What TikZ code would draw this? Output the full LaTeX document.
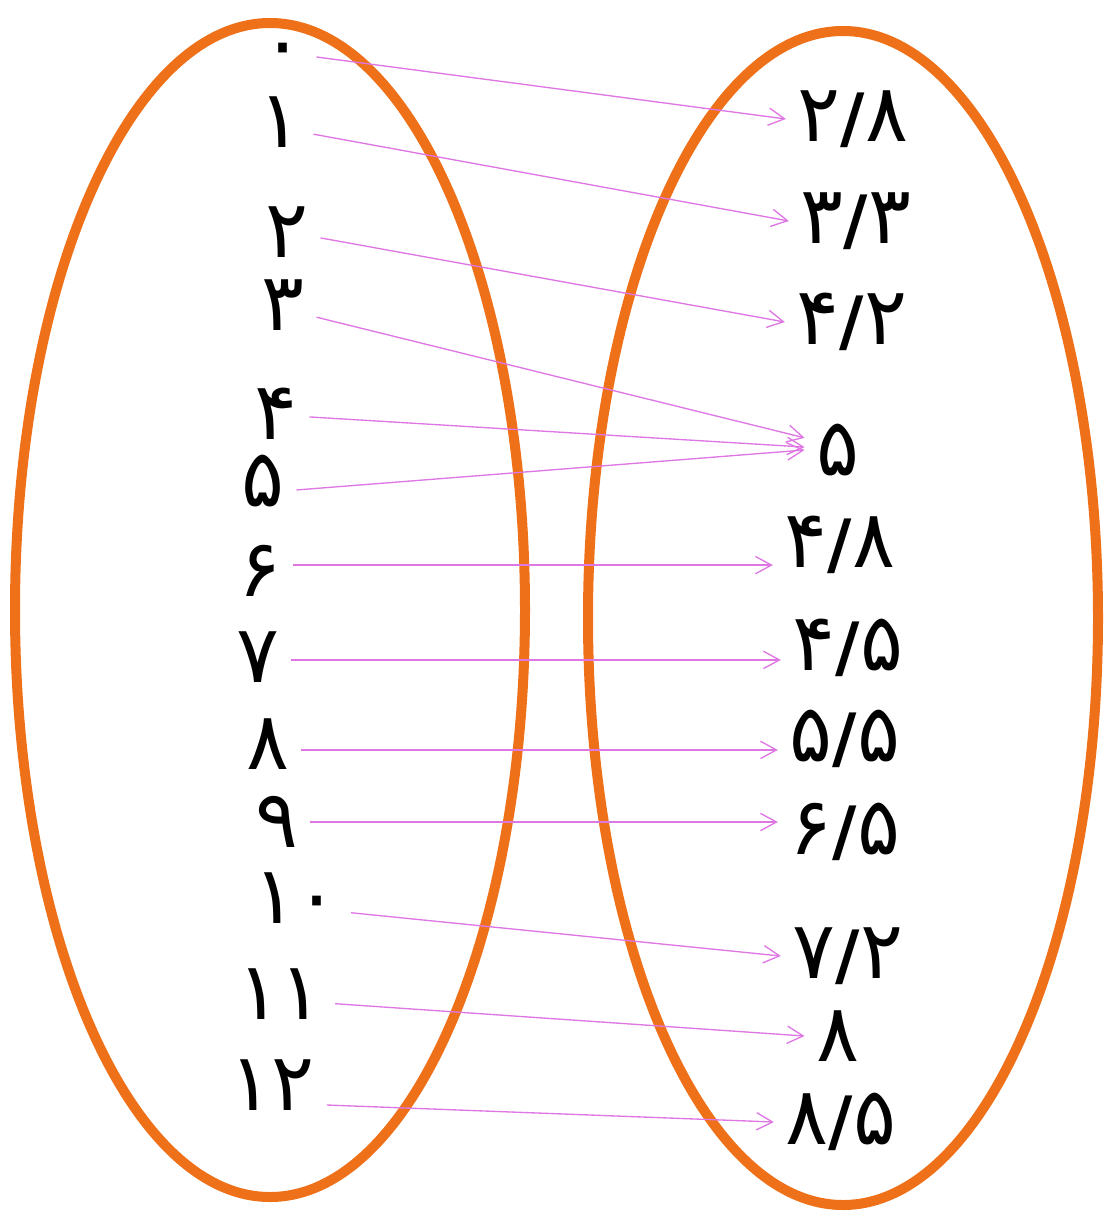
\documentclass[tikz,border=0pt]{standalone}
\usepackage{fontspec}
\usepackage{tikz}
\usetikzlibrary{arrows.meta}
\newfontfamily\fafont[Script=Arabic]{DejaVu Sans}
\definecolor{setorange}{RGB}{238,112,24}
\definecolor{mapviolet}{RGB}{222,118,228}
\newcommand\dsl{{\fontsize{50}{50}\selectfont\bfseries /}}
\tikzset{
  num/.style={font=\fafont\fontsize{60}{62}\selectfont, inner sep=9pt, outer sep=0pt},
  maparrow/.style={draw=mapviolet, line width=1pt, -{Straight Barb[length=12pt,width=13pt,line width=1pt]}},
  setline/.style={draw=setorange, line width=7.5pt}
}

\begin{document}
\begin{tikzpicture}[x=0.75pt,y=0.75pt,yscale=-1,xscale=1]
\useasboundingbox (0,0) rectangle (1117,1217);

%Ellipse left
\draw [setline] (270,610) ellipse (255 and 587);
%Ellipse right
\draw [setline] (843,618) ellipse (255 and 587);

% Text Node
\node [num] (a0) at (283,57) {۰};
\node [num] (a1) at (280,122) {۱};
\node [num] (a2) at (287,232) {۲};
\node [num] (a3) at (283,305) {۳};
\node [num] (a4) at (276,414) {۴};
\node [num] (a5) at (263,481) {۵};
\node [num] (a6) at (260,571) {۶};
\node [num] (a7) at (258,657) {۷};
\node [num] (a8) at (268,744) {۸};
\node [num] (a9) at (277,822) {۹};
\node [num] (a10) at (296,898) {۱۰};
\node [num] (a11) at (280,994) {۱۱};
\node [num] (a12) at (272,1085) {۱۲};

% Text Node
\node [num] (b0) at (853,119) {۲\dsl۸};
\node [num] (b1) at (856,221) {۳\dsl۳};
\node [num] (b2) at (852,322) {۴\dsl۲};
\node [num] (b3) at (838,450) {۵};
\node [num] (b4) at (840,545) {۴\dsl۸};
\node [num] (b5) at (848,648) {۴\dsl۵};
\node [num] (b6) at (845,739) {۵\dsl۵};
\node [num] (b7) at (845,832) {۶\dsl۵};
\node [num] (b8) at (848,956) {۷\dsl۲};
\node [num] (b9) at (838,1036) {۸};
\node [num] (b10) at (841,1122) {۸\dsl۵};

%Straight Lines
\draw [maparrow] (a0.east) -- (b0.west);
\draw [maparrow] (a1.-20) -- (b1.west);
\draw [maparrow] (a2.-10) -- (b2.west);
\draw [maparrow] (a3.-20) -- (b3.160);
\draw [maparrow] (a4.-5) -- (b3.175);
\draw [maparrow] (a5.-15) -- (b3.west);
\draw [maparrow] (a6.10) -- (a6.10 -| b4.west);
\draw [maparrow] (a7.-5) -- (a7.-5 -| b5.west);
\draw [maparrow] (a8.-10) -- (a8.-10 -| b6.west);
\draw [maparrow] (a9.east) -- (a9.east -| b7.west);
\draw [maparrow] (a10.-15) -- (b8.west);
\draw [maparrow] (a11.-10) -- (b9.west);
\draw [maparrow] (a12.-20) -- (b10.west);

\end{tikzpicture}
\end{document}
